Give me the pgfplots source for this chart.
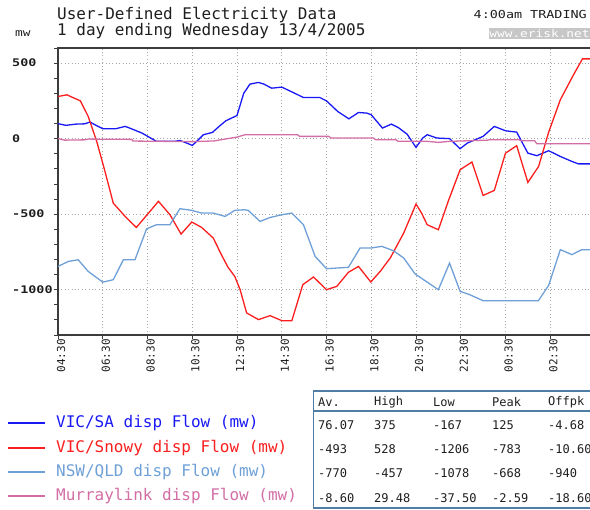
\documentclass[border=0pt]{standalone}
\usepackage{fontspec}
\setmainfont{DejaVu Sans Mono}
\newfontfamily\widefont[FakeStretch=1.22]{DejaVu Sans Mono}
\newfontfamily\tickfont[FakeStretch=1.28]{DejaVu Sans Mono Bold}
\usepackage{pgfplots}
\pgfplotsset{compat=1.18}
\definecolor{vicsa}{RGB}{25,25,245}
\definecolor{snowy}{RGB}{250,30,30}
\definecolor{nswqld}{RGB}{110,160,215}
\definecolor{murray}{RGB}{210,110,165}
\definecolor{frame}{RGB}{60,60,60}
\definecolor{tblborder}{RGB}{80,125,165}
\definecolor{txt}{RGB}{30,30,30}

\begin{document}
\begin{tikzpicture}[x=1pt,y=1pt]
\useasboundingbox (0,0) rectangle (590,-510);

% header
\node[anchor=base west,inner sep=0,text=txt,font=\fontsize{16}{18}\selectfont] at (57,-20) {User-Defined Electricity Data};
\node[anchor=base west,inner sep=0,text=txt,font=\fontsize{16}{18}\selectfont] at (57,-35.5) {1 day ending Wednesday 13/4/2005};
\node[anchor=base west,inner sep=0,text=txt,font=\widefont\fontsize{10.5}{12}\selectfont] at (15,-37) {mw};
\node[anchor=base east,inner sep=0,text=txt,font=\widefont\fontsize{11}{12}\selectfont] at (587,-18.5) {4:00am TRADING};
\fill[black!22] (489,-28) rectangle (592,-39.5);
\node[anchor=center,inner sep=0,text=white,font=\widefont\fontsize{10.5}{12}\selectfont] at (539.5,-34) {www.erisk.net};

\begin{axis}[
  at={(58pt,-335pt)}, anchor=south west,
  scale only axis, width=537pt, height=287pt,
  xmin=0, xmax=24, ymin=-1300, ymax=600,
  axis line style={draw=frame,line width=1.4pt},
  xtick={0,2,...,22},
  xticklabels={04:30,06:30,08:30,10:30,12:30,14:30,16:30,18:30,20:30,22:30,00:30,02:30},
  ytick={-1000,-500,0,500},
  yticklabels={-1000,-500,0,500},
  minor ytick={-1300,-1200,...,600},
  xtick pos=bottom, ytick pos=left,
  tick align=outside,
  major tick length=4pt, minor tick length=4pt,
  tick style={draw=frame,line width=0.8pt},
  grid=major,
  major grid style={draw=black!35,line width=0.8pt,dash pattern=on 0.8pt off 2.6pt},
  xticklabel style={rotate=90,anchor=east,inner sep=0,yshift=-3pt,text=txt,font=\fontsize{11}{12}\selectfont},
  yticklabel style={anchor=west,inner sep=0,xshift=-42pt,text=txt,font=\tickfont\fontsize{10.5}{12}\selectfont},
]
% VIC/SA
\addplot[vicsa,line width=1.3pt] coordinates {(0,99)(0.35,88)(0.8,96)(1.2,98)(1.43,110)(1.65,92)(2,66)(2.6,66)(3,81)(3.2,70)(3.75,37)(4.4,-18)(5.2,-18)(5.45,-12)(5.75,-29)(6,-45)(6.2,-18)(6.5,26)(6.9,41)(7.2,81)(7.5,118)(8,153)(8.3,300)(8.58,361)(8.96,372)(9.2,361)(9.55,334)(10,341)(10.5,306)(10.97,272)(11.7,272)(12,250)(12.5,180)(13,131)(13.43,173)(13.8,169)(14,158)(14.5,70)(14.9,96)(15.2,74)(15.6,30)(16,-58)(16.3,4)(16.5,26)(16.93,4)(17.5,0)(17.97,-67)(18.3,-29)(19,15)(19.5,81)(20,52)(20.5,43)(21,-96)(21.4,-113)(21.93,-80)(22.45,-118)(22.97,-151)(23.26,-167)(23.8,-167)};
% VIC/Snowy
\addplot[snowy,line width=1.3pt] coordinates {(0,279)(0.4,290)(0.62,275)(1,250)(1.35,147)(1.73,-18)(2.1,-217)(2.47,-427)(3,-515)(3.5,-588)(3.96,-508)(4.49,-415)(5,-503)(5.5,-632)(5.98,-552)(6.42,-588)(6.94,-658)(7.3,-768)(7.6,-852)(7.9,-912)(8.14,-1000)(8.43,-1154)(8.96,-1198)(9.48,-1172)(10,-1205)(10.45,-1206)(10.94,-967)(11.42,-916)(12,-1000)(12.46,-978)(12.98,-885)(13.43,-846)(13.98,-949)(14.4,-879)(14.85,-790)(15.45,-625)(16,-433)(16.25,-493)(16.5,-570)(17,-603)(17.45,-411)(17.97,-206)(18.5,-155)(19,-376)(19.5,-343)(20,-96)(20.5,-47)(21,-290)(21.48,-184)(21.93,43)(22.45,257)(23.04,423)(23.44,528)(23.8,528)};
% NSW/QLD
\addplot[nswqld,line width=1.3pt] coordinates {(0,-846)(0.46,-813)(0.9,-802)(1.35,-879)(2,-950)(2.47,-934)(2.92,-802)(3.44,-802)(3.96,-597)(4.4,-570)(5,-570)(5.45,-464)(5.98,-475)(6.42,-493)(6.94,-493)(7.47,-515)(7.9,-475)(8.33,-471)(8.5,-475)(9.03,-548)(9.48,-522)(10,-504)(10.45,-493)(10.97,-570)(11.49,-779)(12,-861)(12.98,-852)(13.5,-724)(14,-724)(14.47,-713)(14.99,-742)(15.45,-790)(15.96,-896)(16.56,-956)(17,-1000)(17.5,-824)(17.97,-1011)(18.4,-1033)(19,-1073)(21.47,-1073)(21.93,-971)(22.45,-735)(22.97,-768)(23.41,-735)(23.8,-735)};
% Murraylink
\addplot[murray,line width=1.3pt] coordinates {(0,0)(0.3,-10)(1.2,-8)(1.35,-3)(3.3,-5)(3.35,-16)(6,-20)(7,-15)(7.3,-7)(8,10)(8.36,26)(10.7,26)(10.8,15)(12.1,15)(12.2,4)(14.1,4)(14.2,-7)(15.1,-7)(15.2,-18)(16.5,-18)(17,-25)(17.5,-18)(19.2,-10)(19.3,-7)(20.6,-7)(20.7,-14)(21.3,-14)(21.4,-34)(23.8,-34)};
\end{axis}

% legend
\begin{scope}[font=\fontsize{16}{18}\selectfont]
\draw[vicsa,line width=1.3pt] (8,-423) -- (45,-423);
\node[anchor=west,inner sep=0,text=vicsa] at (56,-423) {VIC/SA disp Flow (mw)};
\draw[snowy,line width=1.3pt] (8,-448) -- (45,-448);
\node[anchor=west,inner sep=0,text=snowy] at (56,-448) {VIC/Snowy disp Flow (mw)};
\draw[nswqld,line width=1.3pt] (8,-472) -- (45,-472);
\node[anchor=west,inner sep=0,text=nswqld] at (56,-472) {NSW/QLD disp Flow (mw)};
\draw[murray,line width=1.3pt] (8,-496) -- (45,-496);
\node[anchor=west,inner sep=0,text=murray] at (56,-496) {Murraylink disp Flow (mw)};
\end{scope}

% statistics table
\draw[tblborder,line width=1.5pt] (313.5,-391) rectangle (600,-508);
\draw[tblborder,line width=1.5pt] (313.5,-411) -- (600,-411);
\begin{scope}[font=\fontsize{12}{14}\selectfont,text=txt]
\foreach \lab [count=\i from 0] in {Av.,High,Low,Peak,Offpk} {
  \pgfmathsetmacro{\cx}{{318,374,433,492,548}[\i]}
  \node[anchor=west,inner sep=0] at (\cx,-402) {\lab};
}
\foreach \a/\b/\c/\d/\e [count=\r from 0] in {76.07/375/-167/125/-4.68,-493/528/-1206/-783/-10.60,-770/-457/-1078/-668/-940,-8.60/29.48/-37.50/-2.59/-18.60} {
  \pgfmathsetmacro{\ry}{-425-24.3*\r}
  \node[anchor=west,inner sep=0] at (318,\ry) {\a};
  \node[anchor=west,inner sep=0] at (374,\ry) {\b};
  \node[anchor=west,inner sep=0] at (433,\ry) {\c};
  \node[anchor=west,inner sep=0] at (492,\ry) {\d};
  \node[anchor=west,inner sep=0] at (548,\ry) {\e};
}
\end{scope}
\end{tikzpicture}
\end{document}
